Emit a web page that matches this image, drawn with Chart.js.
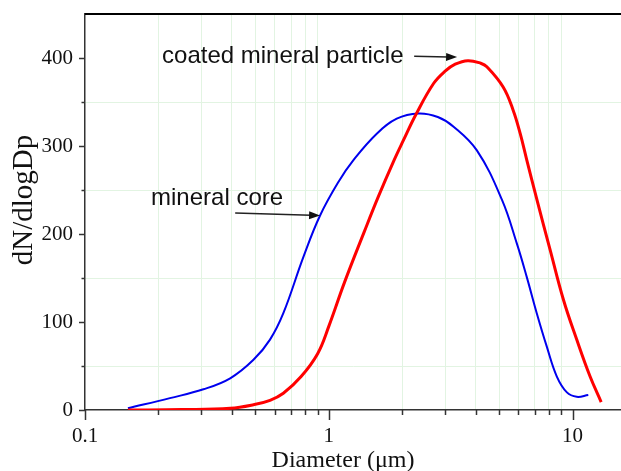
<!DOCTYPE html>
<html>
<head>
<meta charset="utf-8">
<script src="https://cdn.jsdelivr.net/npm/chart.js@4.4.1/dist/chart.umd.min.js"></script>
<style>
    html, body { margin: 0; padding: 0; background: #fff; }
    #wrap { width: 621px; height: 471px; position: relative; }
</style>
</head>
<body>
<div id="wrap"><canvas id="sizeChart"></canvas></div>
<script>
// Diameter (um) and dN/dlogDp
const coreD = [0.15, 0.223, 0.306, 0.394, 0.491, 0.574, 0.651, 0.787, 0.921, 1.1, 1.262, 1.573, 1.9, 2.33, 2.8, 3.25, 4.05, 5.13, 5.91, 6.49, 7.13, 7.84, 8.62, 9.48, 10.4, 11.6];
const coreN = [2, 13.5, 23.5, 36, 57, 80, 110, 174, 221, 260, 284, 314, 331, 337, 333, 322, 295, 239, 189, 151, 110, 72, 38, 20, 15, 17];

const coatD = [0.15, 0.25, 0.394, 0.491, 0.574, 0.651, 0.77, 0.9, 1.0, 1.16, 1.4, 1.6, 1.84, 2.02, 2.28, 2.69, 3.0, 3.3, 3.72, 4.2, 4.45, 5.19, 5.7, 6.1, 6.49, 7.14, 8.09, 9.18, 10.4, 11.8, 13.1];
const coatN = [0, 0.5, 2, 6, 11, 19, 38, 64, 95, 145, 203, 243, 282, 306, 336, 371, 385, 393, 397, 394, 390, 367, 341, 314, 284, 239, 182, 125, 80, 38, 9];

const xTickVals = [0.1, 0.2, 0.3, 0.4, 0.5, 0.6, 0.7, 0.8, 0.9, 1, 2, 3, 4, 5, 6, 7, 8, 9, 10];
const xTickLabels = ['0.1', '1', '10'];
const yTickLabels = ['0', '100', '200', '300', '400'];

const xTitle = 'Diameter (\u03bcm)';
const yTitle = 'dN/dlogDp';

// annotation text and arrows, in data units
const notes = [
    { text: 'coated mineral particle', tx: 0.207, ty: 394, from: [2.24, 402], to: [3.36, 401] },
    { text: 'mineral core', tx: 0.1866, ty: 233, from: [0.413, 224], to: [0.921, 221] }
];

const toPoints = (xs, ys) => xs.map((v, i) => ({ x: v, y: ys[i] }));
const isDecade = v => Math.abs(Math.log10(v) - Math.round(Math.log10(v))) < 1e-6;

const decor = {
    id: 'decor',
    afterDraw(chart) {
        const { ctx, chartArea: a, scales: { x, y } } = chart;
        ctx.save();

        // top frame line
        ctx.strokeStyle = '#000';
        ctx.lineWidth = 2;
        ctx.beginPath();
        ctx.moveTo(a.left, a.top);
        ctx.lineTo(a.right, a.top);
        ctx.stroke();

        // tick marks
        ctx.strokeStyle = '#333';
        ctx.lineWidth = 1.5;
        x.ticks.forEach(t => {
            const px = Math.round(x.getPixelForValue(t.value)) + 0.5;
            const len = isDecade(t.value) ? 10 : 5;
            ctx.beginPath();
            ctx.moveTo(px, a.bottom);
            ctx.lineTo(px, a.bottom + len);
            ctx.stroke();
        });
        y.ticks.forEach(t => {
            if (t.value >= 450) return;
            const py = Math.round(y.getPixelForValue(t.value)) + 0.5;
            const len = t.value % 100 === 0 ? 6 : 3.5;
            ctx.beginPath();
            ctx.moveTo(a.left, py);
            ctx.lineTo(a.left - len, py);
            ctx.stroke();
        });

        // annotations
        ctx.fillStyle = '#111';
        ctx.strokeStyle = '#222';
        ctx.font = '24px "Liberation Sans", Arial, sans-serif';
        ctx.textBaseline = 'alphabetic';
        ctx.textAlign = 'left';
        notes.forEach(n => {
            ctx.fillText(n.text, x.getPixelForValue(n.tx), y.getPixelForValue(n.ty));
            const x1 = x.getPixelForValue(n.from[0]), y1 = y.getPixelForValue(n.from[1]);
            const x2 = x.getPixelForValue(n.to[0]), y2 = y.getPixelForValue(n.to[1]);
            const ang = Math.atan2(y2 - y1, x2 - x1);
            ctx.lineWidth = 1.5;
            ctx.beginPath();
            ctx.moveTo(x1, y1);
            ctx.lineTo(x2 - 9 * Math.cos(ang), y2 - 9 * Math.sin(ang));
            ctx.stroke();
            ctx.beginPath();
            ctx.moveTo(x2, y2);
            ctx.lineTo(x2 - 11 * Math.cos(ang) + 4 * Math.sin(ang), y2 - 11 * Math.sin(ang) - 4 * Math.cos(ang));
            ctx.lineTo(x2 - 11 * Math.cos(ang) - 4 * Math.sin(ang), y2 - 11 * Math.sin(ang) + 4 * Math.cos(ang));
            ctx.closePath();
            ctx.fill();
        });

        // axis titles
        ctx.fillStyle = '#111';
        ctx.font = '24px "Liberation Serif", "Times New Roman", serif';
        ctx.textAlign = 'center';
        ctx.fillText(xTitle, 343, 467);
        ctx.save();
        ctx.translate(32, 200);
        ctx.rotate(-Math.PI / 2);
        ctx.font = '29px "Liberation Serif", "Times New Roman", serif';
        ctx.fillText(yTitle, 0, 0);
        ctx.restore();

        ctx.restore();
    }
};

const chart = new Chart(document.getElementById('sizeChart').getContext('2d'), {
    type: 'line',
    data: {
        datasets: [
            {
                label: 'coated mineral particle',
                data: toPoints(coatD, coatN),
                borderColor: '#ff0000',
                borderWidth: 3,
                pointRadius: 0,
                tension: 0.4,
                fill: false
            },
            {
                label: 'mineral core',
                data: toPoints(coreD, coreN),
                borderColor: '#0000ee',
                borderWidth: 2,
                pointRadius: 0,
                tension: 0.4,
                fill: false
            }
        ]
    },
    options: {
        responsive: true,
        maintainAspectRatio: false,
        animation: false,
        layout: { padding: { left: 0, top: 14, right: 0, bottom: 0 } },
        plugins: {
            legend: { display: false },
            tooltip: { enabled: false }
        },
        scales: {
            x: {
                type: 'logarithmic',
                min: 0.1,
                max: 15.8,
                afterBuildTicks: scale => { scale.ticks = xTickVals.map(v => ({ value: v })); },
                afterFit: scale => {
                    scale.height = 61;
                    scale.paddingLeft = 0;
                    scale.paddingRight = 0;
                },
                ticks: {
                    autoSkip: false,
                    maxRotation: 0,
                    padding: 14,
                    color: '#111',
                    font: { family: '"Liberation Serif", "Times New Roman", serif', size: 21 },
                    callback: v => {
                        const s = String(Math.round(v * 10) / 10);
                        return xTickLabels.includes(s) ? s : '';
                    }
                },
                grid: {
                    drawTicks: false,
                    color: ctx => (ctx.tick && isDecade(ctx.tick.value)) ? 'rgba(0,0,0,0)' : '#e2f4e2',
                    lineWidth: 1
                },
                border: { display: true, color: '#333', width: 1.5 }
            },
            y: {
                min: 0,
                max: 450,
                afterFit: scale => {
                    scale.width = 85;
                    scale.paddingTop = 0;
                    scale.paddingBottom = 0;
                },
                ticks: {
                    stepSize: 50,
                    padding: 12,
                    color: '#111',
                    font: { family: '"Liberation Serif", "Times New Roman", serif', size: 21 },
                    callback: v => yTickLabels.includes(String(v)) ? String(v) : ''
                },
                grid: {
                    drawTicks: false,
                    color: ctx => (ctx.tick && ctx.tick.value % 100 === 50) ? '#e2f4e2' : 'rgba(0,0,0,0)',
                    lineWidth: 1
                },
                border: { display: true, color: '#333', width: 1.5 }
            }
        }
    },
    plugins: [decor]
});
</script>
</body>
</html>
